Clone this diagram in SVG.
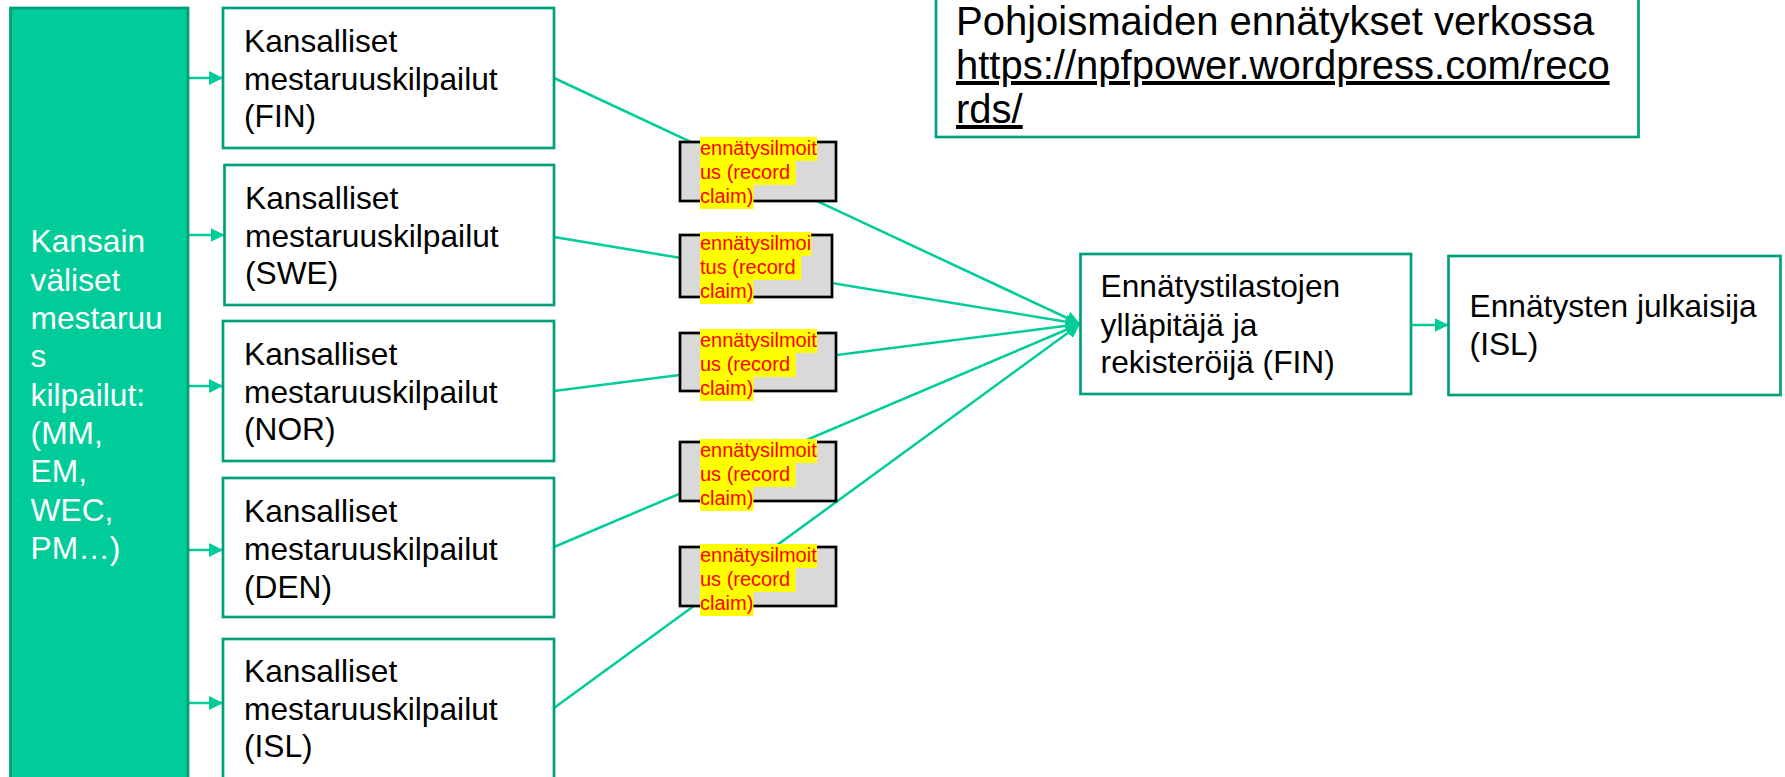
<svg xmlns="http://www.w3.org/2000/svg" width="1785" height="777" viewBox="0 0 1785 777">
<style>
.node{fill:#FFFFFF;stroke:#00A07A;stroke-width:2.7}
.nt{font-family:"Liberation Sans",Arial,sans-serif;font-size:31.7px;fill:#000000}
.lt{font-family:"Liberation Sans",Arial,sans-serif;font-size:31.7px;fill:#FFFFFF}
.con{stroke:#00CC99;stroke-width:2.5;fill:none}
.claim{fill:#D9D9D9;stroke:#000000;stroke-width:2.7}
.hl{fill:#FFFF00}
.ct{font-family:"Liberation Sans",Arial,sans-serif;font-size:20px;fill:#FF0000}
.web{font-family:"Liberation Sans",Arial,sans-serif;font-size:40px;fill:#000000}
</style>
<defs>
<marker id="arr" viewBox="0 0 14 14" refX="14" refY="7" markerWidth="14" markerHeight="14" markerUnits="userSpaceOnUse" orient="auto">
<path d="M0,0 L14,7 L0,14 z" fill="#00CC99"/>
</marker>
</defs>
<rect width="1785" height="777" fill="#FFFFFF"/>

<g id="connectors">
<line class="con" x1="189" y1="78" x2="223" y2="78" marker-end="url(#arr)"/>
<line class="con" x1="189" y1="235" x2="224.5" y2="235" marker-end="url(#arr)"/>
<line class="con" x1="189" y1="386" x2="223" y2="386" marker-end="url(#arr)"/>
<line class="con" x1="189" y1="550" x2="223" y2="550" marker-end="url(#arr)"/>
<line class="con" x1="189" y1="703" x2="223" y2="703" marker-end="url(#arr)"/>
<line class="con" x1="554" y1="78" x2="1080" y2="324" marker-end="url(#arr)"/>
<line class="con" x1="554" y1="237" x2="1080" y2="324" marker-end="url(#arr)"/>
<line class="con" x1="554" y1="391" x2="1080" y2="324" marker-end="url(#arr)"/>
<line class="con" x1="554" y1="547" x2="1080" y2="324" marker-end="url(#arr)"/>
<line class="con" x1="554" y1="708" x2="1080" y2="324" marker-end="url(#arr)"/>
<line class="con" x1="1411" y1="325" x2="1448.5" y2="325" marker-end="url(#arr)"/>
</g>

<g id="intl">
<rect x="10.5" y="8" width="177.5" height="800" fill="#00CC99" stroke="#009E78" stroke-width="2.7"/>
<text class="lt" x="30.6" y="252">Kansain<tspan x="30.6" y="290.5">väliset</tspan><tspan x="30.6" y="329">mestaruu</tspan><tspan x="30.6" y="367">s</tspan><tspan x="30.6" y="405.5">kilpailut:</tspan><tspan x="30.6" y="444">(MM,</tspan><tspan x="30.6" y="482">EM,</tspan><tspan x="30.6" y="520.5">WEC,</tspan><tspan x="30.6" y="559">PM…)</tspan></text>
</g>

<g id="fin">
<rect class="node" x="223" y="8" width="331" height="140"/>
<text class="nt" x="244" y="52">Kansalliset<tspan x="244" y="89.5">mestaruuskilpailut</tspan><tspan x="244" y="127">(FIN)</tspan></text>
</g>
<g id="swe">
<rect class="node" x="224.5" y="165" width="329.5" height="140"/>
<text class="nt" x="245" y="209">Kansalliset<tspan x="245" y="246.5">mestaruuskilpailut</tspan><tspan x="245" y="284">(SWE)</tspan></text>
</g>
<g id="nor">
<rect class="node" x="223" y="321" width="331" height="140"/>
<text class="nt" x="244" y="365">Kansalliset<tspan x="244" y="402.5">mestaruuskilpailut</tspan><tspan x="244" y="440">(NOR)</tspan></text>
</g>
<g id="den">
<rect class="node" x="223" y="478" width="331" height="139"/>
<text class="nt" x="244" y="522">Kansalliset<tspan x="244" y="560">mestaruuskilpailut</tspan><tspan x="244" y="598">(DEN)</tspan></text>
</g>
<g id="isl">
<rect class="node" x="223" y="639" width="331" height="160"/>
<text class="nt" x="244" y="682">Kansalliset<tspan x="244" y="719.5">mestaruuskilpailut</tspan><tspan x="244" y="757">(ISL)</tspan></text>
</g>

<g id="claim1">
<rect class="claim" x="680" y="142" width="156" height="59"/>
<rect class="hl" x="700" y="137" width="117" height="24"/>
<rect class="hl" x="700" y="161" width="95.6" height="24"/>
<rect class="hl" x="700" y="185" width="53.5" height="24"/>
<text class="ct" x="700" y="155">ennätysilmoit<tspan x="700" y="179">us (record</tspan><tspan x="700" y="203">claim)</tspan></text>
</g>
<g id="claim2">
<rect class="claim" x="680" y="235" width="152" height="62"/>
<rect class="hl" x="700" y="232" width="111.2" height="24"/>
<rect class="hl" x="700" y="256" width="101.2" height="24"/>
<rect class="hl" x="700" y="280" width="53.5" height="24"/>
<text class="ct" x="700" y="250">ennätysilmoi<tspan x="700" y="274">tus (record</tspan><tspan x="700" y="298">claim)</tspan></text>
</g>
<g id="claim3">
<rect class="claim" x="680" y="333" width="156" height="58"/>
<rect class="hl" x="700" y="329" width="117" height="24"/>
<rect class="hl" x="700" y="353" width="95.6" height="24"/>
<rect class="hl" x="700" y="377" width="53.5" height="24"/>
<text class="ct" x="700" y="347">ennätysilmoit<tspan x="700" y="371">us (record</tspan><tspan x="700" y="395">claim)</tspan></text>
</g>
<g id="claim4">
<rect class="claim" x="680" y="442" width="156" height="59"/>
<rect class="hl" x="700" y="439" width="117" height="24"/>
<rect class="hl" x="700" y="463" width="95.6" height="24"/>
<rect class="hl" x="700" y="487" width="53.5" height="24"/>
<text class="ct" x="700" y="457">ennätysilmoit<tspan x="700" y="481">us (record</tspan><tspan x="700" y="505">claim)</tspan></text>
</g>
<g id="claim5">
<rect class="claim" x="680" y="547" width="156" height="59"/>
<rect class="hl" x="700" y="544" width="117" height="24"/>
<rect class="hl" x="700" y="568" width="95.6" height="24"/>
<rect class="hl" x="700" y="592" width="53.5" height="24"/>
<text class="ct" x="700" y="562">ennätysilmoit<tspan x="700" y="586">us (record</tspan><tspan x="700" y="610">claim)</tspan></text>
</g>

<g id="registrar">
<rect class="node" x="1080.5" y="254" width="330.5" height="140"/>
<text class="nt" x="1100.6" y="297">Ennätystilastojen<tspan x="1100.6" y="335.5">ylläpitäjä ja</tspan><tspan x="1100.6" y="373">rekisteröijä (FIN)</tspan></text>
</g>
<g id="publisher">
<rect class="node" x="1448.5" y="256" width="332" height="139"/>
<text class="nt" x="1469.6" y="317">Ennätysten julkaisija<tspan x="1469.6" y="355">(ISL)</tspan></text>
</g>

<g id="web">
<rect class="node" x="936" y="-10" width="702.5" height="147"/>
<text class="web" x="956" y="35">Pohjoismaiden ennätykset verkossa</text>
<text class="web" x="956" y="79" text-decoration="underline">https://npfpower.wordpress.com/reco</text>
<text class="web" x="956" y="123" text-decoration="underline">rds/</text>
</g>
</svg>
